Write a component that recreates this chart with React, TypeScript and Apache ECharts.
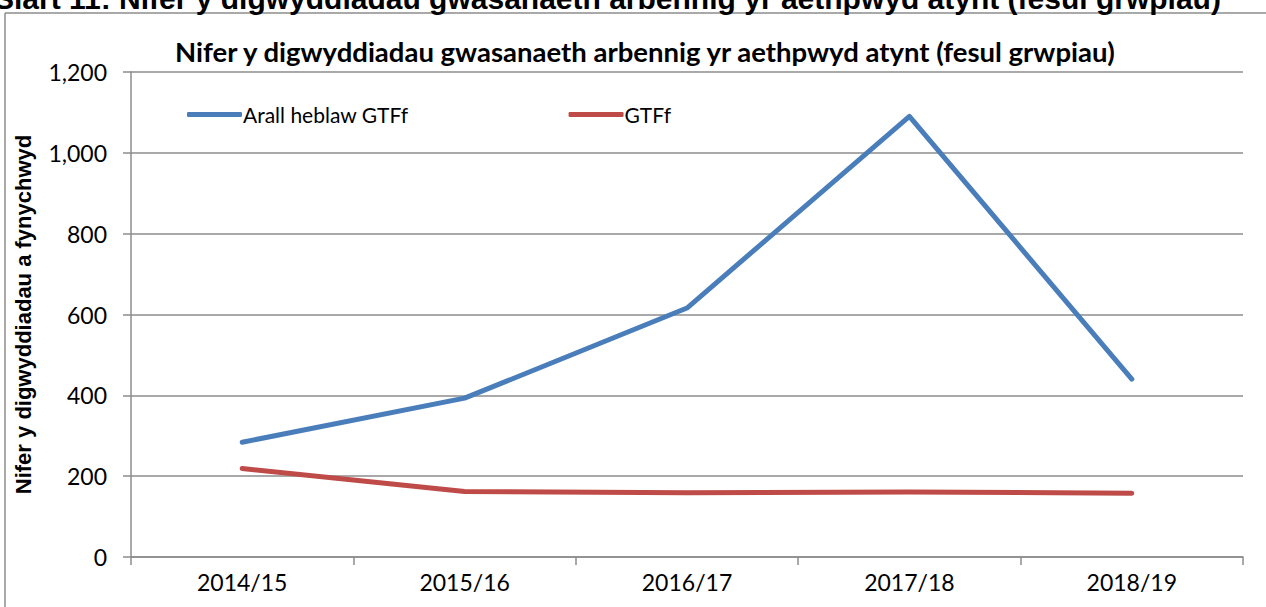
import React, { useEffect, useRef } from "react";
import * as echarts from "echarts";

const categories = ["2014/15", "2015/16", "2016/17", "2017/18", "2018/19"];
const arallHeblawGTFf = [284, 393, 616, 1090, 440];
const gtff = [219, 162, 159, 161, 158];
const seriesNames = ["Arall heblaw GTFf", "GTFf"];
const chartTitle = "Nifer y digwyddiadau gwasanaeth arbennig yr aethpwyd atynt (fesul grwpiau)";
const pageTitle = "Siart 11: Nifer y digwyddiadau gwasanaeth arbennig yr aethpwyd atynt (fesul grwpiau)";
const yAxisName = "Nifer y digwyddiadau a fynychwyd";

const FONT = "Lato, 'Open Sans', sans-serif";
const ARIAL = "'Liberation Sans', Arial, sans-serif";
const GRID_COLOR = "#8c8c8c";

export default function App() {
  const ref = useRef<HTMLDivElement>(null);
  useEffect(() => {
    if (!ref.current) return;
    const chart = echarts.init(ref.current, null, { renderer: "svg" });
    chart.setOption({
      animation: false,
      backgroundColor: "#ffffff",
      textStyle: { fontFamily: FONT },
      title: {
        text: chartTitle,
        left: 640,
        top: 32,
        textAlign: "center",
        textStyle: { fontFamily: FONT, fontSize: 27.5, fontWeight: "bold", color: "#000" },
      },
      legend: {
        left: 182,
        top: 99,
        itemWidth: 55,
        itemHeight: 5,
        itemGap: 160,
        icon: "roundRect",
        textStyle: { fontFamily: FONT, fontSize: 21, color: "#000", padding: [0, 0, 0, -4] },
        data: seriesNames,
      },
      grid: { left: 131, right: 23, top: 72, bottom: 50, containLabel: false },
      xAxis: {
        type: "category",
        data: categories,
        boundaryGap: true,
        axisLine: { lineStyle: { color: GRID_COLOR, width: 1.5 } },
        axisTick: { show: true, length: 8, lineStyle: { color: GRID_COLOR, width: 1.5 } },
        axisLabel: { fontFamily: FONT, fontSize: 23, color: "#000", margin: 13 },
      },
      yAxis: {
        type: "value",
        min: 0,
        max: 1200,
        interval: 200,
        name: yAxisName,
        nameLocation: "middle",
        nameGap: 97,
        nameRotate: 90,
        nameTextStyle: { fontFamily: ARIAL, fontSize: 22, fontWeight: "bold", color: "#000" },
        axisLine: { show: true, lineStyle: { color: GRID_COLOR, width: 1.5 } },
        axisTick: { show: true, length: 8, lineStyle: { color: GRID_COLOR, width: 1.5 } },
        splitLine: { lineStyle: { color: GRID_COLOR, width: 1.5 } },
        axisLabel: {
          fontFamily: FONT,
          fontSize: 23,
          color: "#000",
          margin: 24,
          formatter: (v: number) => v.toLocaleString("en-US"),
        },
      },
      series: [
        {
          name: seriesNames[0],
          type: "line",
          data: arallHeblawGTFf,
          symbol: "none",
          lineStyle: { color: "#4a7ebb", width: 5, cap: "round", join: "round" },
          itemStyle: { color: "#4a7ebb" },
        },
        {
          name: seriesNames[1],
          type: "line",
          data: gtff,
          symbol: "none",
          lineStyle: { color: "#be4b48", width: 5, cap: "round", join: "round" },
          itemStyle: { color: "#be4b48" },
        },
      ],
      graphic: [
        {
          type: "line",
          shape: { x1: 5, y1: 13, x2: 1266, y2: 13 },
          style: { stroke: GRID_COLOR, lineWidth: 1.5 },
        },
        {
          type: "line",
          shape: { x1: 5, y1: 13, x2: 5, y2: 607 },
          style: { stroke: GRID_COLOR, lineWidth: 1.5 },
        },
        {
          type: "text",
          x: -6,
          y: 13,
          style: {
            text: pageTitle,
            font: `bold 30px ${ARIAL}`,
            fill: "#000",
            textVerticalAlign: "bottom",
          },
        },
      ],
    });
    return () => chart.dispose();
  }, []);
  return (
    <div
      ref={ref}
      style={{ position: "fixed", left: 0, top: 0, width: 1266, height: 607 }}
    />
  );
}
